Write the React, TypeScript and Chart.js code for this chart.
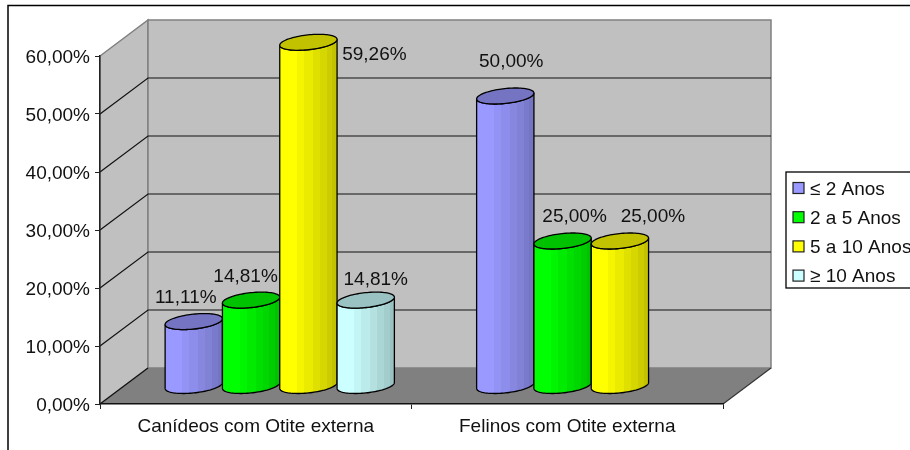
import React, { useEffect, useRef } from "react";
import { Chart, registerables } from "chart.js";

Chart.register(...registerables);

const categories = ["Canídeos com Otite externa", "Felinos com Otite externa"];
const seriesNames = ["≤ 2 Anos", "2 a 5 Anos", "5 a 10 Anos", "≥ 10 Anos"];
const upToTwo = [11.11, 50.0];
const twoToFive = [14.81, 25.0];
const fiveToTen = [59.26, 25.0];
const overTen = [14.81, null];
const seriesColors = [
  [153, 153, 255],
  [0, 255, 0],
  [255, 255, 0],
  [204, 255, 255],
];
const yTicks = [0, 10, 20, 30, 40, 50, 60];

// Hand-placed label offsets from each column's top, per series and category.
const labelOffsets = [
  [[-8, -24], [6, -34]],
  [[-5.5, -23.5], [12, -24.5]],
  [[66, 12.5], [33, -24.5]],
  [[10, -20.5], null],
];

const FONT = "'Liberation Sans', Arial, sans-serif";
const FONT_SIZE = 19;
const DEPTH_X = 48;
const DEPTH_Y = 36;
const TEXT = "#111111";

const pct = (v: number) => v.toFixed(2).replace(".", ",") + "%";
const shade = (c: number[], f: number) =>
  `rgb(${Math.round(c[0] * f)},${Math.round(c[1] * f)},${Math.round(c[2] * f)})`;

// Stepped shading across the cylinder's side.
const bands: [number, number, number][] = [
  [0, 0.3, 1],
  [0.3, 0.42, 0.96],
  [0.42, 0.58, 0.92],
  [0.58, 0.7, 0.88],
  [0.7, 0.82, 0.84],
  [0.82, 0.92, 0.8],
  [0.92, 1, 0.76],
];

function drawCylinder(
  ctx: CanvasRenderingContext2D,
  cx: number,
  top: number,
  base: number,
  width: number,
  color: number[]
) {
  const kx = 10.5;
  const ky = 8;
  const half = width / 2;
  const r = Math.sqrt(half * half - kx * kx);
  const t0 = Math.atan2(kx, r);
  const pt = (cy: number, t: number): [number, number] => [
    cx + r * Math.cos(t) + kx * Math.sin(t),
    cy - ky * Math.sin(t),
  ];
  const N = 48;

  ctx.beginPath();
  // Down the left edge, round the near side of the base, up the right edge, back along the top.
  for (let i = 0; i <= N; i++) {
    const t = Math.PI + t0 + ((t0 + 2 * Math.PI - (Math.PI + t0)) * i) / N;
    const [x, y] = pt(base, t);
    if (i === 0) ctx.moveTo(x, y);
    else ctx.lineTo(x, y);
  }
  for (let i = 0; i <= N; i++) {
    const t = t0 + 2 * Math.PI - (Math.PI * i) / N;
    const [x, y] = pt(top, t);
    ctx.lineTo(x, y);
  }
  ctx.closePath();
  const g = ctx.createLinearGradient(cx - half, 0, cx + half, 0);
  for (const [a, b, f] of bands) {
    g.addColorStop(a, shade(color, f));
    g.addColorStop(b, shade(color, f));
  }
  ctx.fillStyle = g;
  ctx.fill();
  ctx.lineWidth = 1.3;
  ctx.strokeStyle = "#000";
  ctx.stroke();

  ctx.beginPath();
  for (let i = 0; i <= 2 * N; i++) {
    const [x, y] = pt(top, (Math.PI * i) / N);
    if (i === 0) ctx.moveTo(x, y);
    else ctx.lineTo(x, y);
  }
  ctx.closePath();
  ctx.fillStyle = shade(color, 0.76);
  ctx.fill();
  ctx.stroke();
}

const chartBoxPlugin = {
  id: "chartBox",
  beforeDraw(chart: any) {
    const { ctx, chartArea: a, scales } = chart;
    const l = a.left;
    const r = a.right;
    const t = a.top;
    const b = a.bottom;
    ctx.save();

    // Outer frame: its right and bottom sides fall beyond the canvas.
    ctx.strokeStyle = "#000";
    ctx.lineWidth = 1.5;
    ctx.beginPath();
    ctx.moveTo(8, 460);
    ctx.lineTo(8, 5.5);
    ctx.lineTo(920, 5.5);
    ctx.stroke();

    // Side wall, back wall, floor.
    ctx.fillStyle = "#c0c0c0";
    ctx.strokeStyle = "#808080";
    ctx.lineWidth = 1.5;
    ctx.beginPath();
    ctx.moveTo(l, t);
    ctx.lineTo(l + DEPTH_X, t - DEPTH_Y);
    ctx.lineTo(l + DEPTH_X, b - DEPTH_Y);
    ctx.lineTo(l, b);
    ctx.closePath();
    ctx.fill();
    ctx.stroke();
    ctx.beginPath();
    ctx.rect(l + DEPTH_X, t - DEPTH_Y, r - l, b - t);
    ctx.fill();
    ctx.stroke();
    ctx.fillStyle = "#808080";
    ctx.beginPath();
    ctx.moveTo(l, b);
    ctx.lineTo(l + DEPTH_X, b - DEPTH_Y);
    ctx.lineTo(r + DEPTH_X, b - DEPTH_Y);
    ctx.lineTo(r, b);
    ctx.closePath();
    ctx.fill();

    // Grid lines run along the side wall and across the back wall.
    ctx.strokeStyle = "#111";
    ctx.lineWidth = 1.2;
    for (const v of yTicks) {
      const y = scales.y.getPixelForValue(v);
      if (v === 60) continue;
      ctx.beginPath();
      ctx.moveTo(l, y);
      ctx.lineTo(l + DEPTH_X, y - DEPTH_Y);
      if (v !== 0) ctx.lineTo(r + DEPTH_X, y - DEPTH_Y);
      ctx.stroke();
    }
    ctx.strokeStyle = "#333";
    ctx.beginPath();
    ctx.moveTo(r, b);
    ctx.lineTo(r + DEPTH_X, b - DEPTH_Y);
    ctx.stroke();
    ctx.restore();
  },
  afterDatasetsDraw(chart: any) {
    const { ctx } = chart;
    const midX = DEPTH_X / 2;
    const midY = DEPTH_Y / 2;
    ctx.save();

    // Columns stand halfway into the box.
    chart.data.datasets.forEach((ds: any, i: number) => {
      chart.getDatasetMeta(i).data.forEach((el: any, j: number) => {
        if (ds.data[j] == null) return;
        const p = el.getProps(["x", "y", "base", "width"], true);
        drawCylinder(ctx, p.x + midX, p.y - midY, p.base - midY, p.width, seriesColors[i]);
      });
    });

    // Value labels.
    ctx.font = `${FONT_SIZE}px ${FONT}`;
    ctx.fillStyle = TEXT;
    ctx.textAlign = "center";
    ctx.textBaseline = "middle";
    chart.data.datasets.forEach((ds: any, i: number) => {
      chart.getDatasetMeta(i).data.forEach((el: any, j: number) => {
        const off = labelOffsets[i][j];
        if (ds.data[j] == null || !off) return;
        const p = el.getProps(["x", "y"], true);
        ctx.fillText(pct(ds.data[j]), p.x + midX + off[0], p.y - midY + off[1]);
      });
    });

    // Legend.
    const lx = 786;
    const ly = 172;
    ctx.strokeStyle = "#000";
    ctx.lineWidth = 1.3;
    ctx.strokeRect(lx, ly, 126, 116);
    ctx.textAlign = "left";
    seriesNames.forEach((name, i) => {
      const cy = 188 + i * 29.2;
      ctx.fillStyle = shade(seriesColors[i], 1);
      ctx.fillRect(lx + 7, cy - 5.5, 11, 11);
      ctx.strokeStyle = "#222";
      ctx.lineWidth = 1.2;
      ctx.strokeRect(lx + 7, cy - 5.5, 11, 11);
      ctx.fillStyle = TEXT;
      ctx.fillText(name, lx + 24, cy + 1.5);
    });
    ctx.restore();
  },
};

export default function App() {
  const ref = useRef<HTMLCanvasElement>(null);

  useEffect(() => {
    const hidden = "rgba(0,0,0,0)";
    const series = [upToTwo, twoToFive, fiveToTen, overTen];
    const chart = new Chart(ref.current!, {
      type: "bar",
      data: {
        labels: categories,
        datasets: series.map((data, i) => ({
          label: seriesNames[i],
          data,
          backgroundColor: hidden,
          borderWidth: 0,
          barPercentage: 1,
          categoryPercentage: 0.736,
        })),
      },
      options: {
        responsive: false,
        animation: false,
        layout: { padding: { left: 0, right: 187, top: 56, bottom: 0 } },
        plugins: { legend: { display: false }, tooltip: { enabled: false } },
        scales: {
          x: {
            afterFit: (s: any) => {
              s.height = 46;
            },
            grid: { drawOnChartArea: false, drawTicks: true, tickLength: 5, color: "#222" },
            border: { color: "#111", width: 1.5 },
            ticks: { color: TEXT, padding: 6.5, maxRotation: 0, font: { family: FONT, size: FONT_SIZE } },
          },
          y: {
            min: 0,
            max: 60,
            afterFit: (s: any) => {
              s.width = 100;
            },
            afterBuildTicks: (s: any) => {
              s.ticks = yTicks.map((value) => ({ value }));
            },
            grid: { drawOnChartArea: false, drawTicks: true, tickLength: 5, color: "#222" },
            border: { color: "#222", width: 1.5 },
            ticks: {
              color: TEXT,
              padding: 5,
              labelOffset: 1.5,
              font: { family: FONT, size: FONT_SIZE },
              callback: (v: any) => pct(Number(v)),
            },
          },
        },
      },
      plugins: [chartBoxPlugin],
    } as any);
    return () => chart.destroy();
  }, []);

  return (
    <canvas
      ref={ref}
      width={910}
      height={450}
      style={{ position: "absolute", left: 0, top: 0, display: "block" }}
    />
  );
}
